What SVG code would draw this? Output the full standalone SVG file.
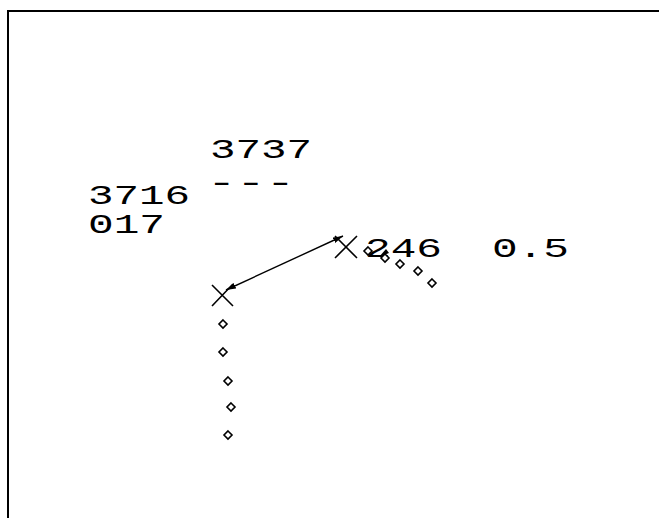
<svg xmlns="http://www.w3.org/2000/svg" width="659" height="518" viewBox="0 0 659 518">
<style>
.t{font-family:"Liberation Mono","DejaVu Sans Mono",monospace;font-size:27px;fill:#000}
.d{fill:#fff;stroke:#000;stroke-width:1.6}
.x{stroke:#000;stroke-width:1.6;fill:none}
.c{stroke:#000;stroke-width:1.4;fill:none}
</style>
<defs>
<marker id="ah" viewBox="0 0 10 6" refX="10" refY="3" markerWidth="10" markerHeight="6" markerUnits="userSpaceOnUse" orient="auto-start-reverse">
<path d="M0,0 L10,3 L0,6 Z" fill="#000"/>
</marker>
<path id="dm" d="M0,-4 L4,0 L0,4 L-4,0 Z"/>
</defs>
<rect x="0" y="0" width="659" height="518" fill="#fff"/>
<path d="M8,518 V11 H659" fill="none" stroke="#000" stroke-width="2"/>
<g id="labels">
<text class="t" x="210" y="158" textLength="102" lengthAdjust="spacingAndGlyphs">3737</text>
<text class="t" x="207" y="191" textLength="88" lengthAdjust="spacingAndGlyphs">---</text>
<text class="t" x="88" y="204" textLength="102" lengthAdjust="spacingAndGlyphs">3716</text>
<text class="t" x="88" y="233" textLength="77" lengthAdjust="spacingAndGlyphs">017</text>
<text class="t" x="365" y="257" textLength="77" lengthAdjust="spacingAndGlyphs">246</text>
<text class="t" x="492" y="257" textLength="77" lengthAdjust="spacingAndGlyphs">0.5</text>
</g>
<g id="node-a">
<path class="x" d="M212,285 L233,306 M233,284 L212,306"/>
</g>
<g id="node-b">
<path class="x" d="M335,236 L357,258 M357,236 L335,258"/>
</g>
<g id="chain-a">
<use href="#dm" class="d" x="223" y="324"/>
<use href="#dm" class="d" x="223" y="352"/>
<use href="#dm" class="d" x="228" y="381"/>
<use href="#dm" class="d" x="231" y="407"/>
<use href="#dm" class="d" x="228" y="435"/>
</g>
<g id="chain-b">
<use href="#dm" class="d" x="368" y="251"/>
<use href="#dm" class="d" x="385" y="258"/>
<use href="#dm" class="d" x="400" y="264"/>
<use href="#dm" class="d" x="418" y="271"/>
<use href="#dm" class="d" x="432" y="283"/>
</g>
<g id="connectors">
<line class="c" x1="226" y1="290" x2="343" y2="236" marker-start="url(#ah)" marker-end="url(#ah)"/>
<path d="M379,257 L386,249 L389,253 Z" fill="#000"/>
</g>
</svg>
